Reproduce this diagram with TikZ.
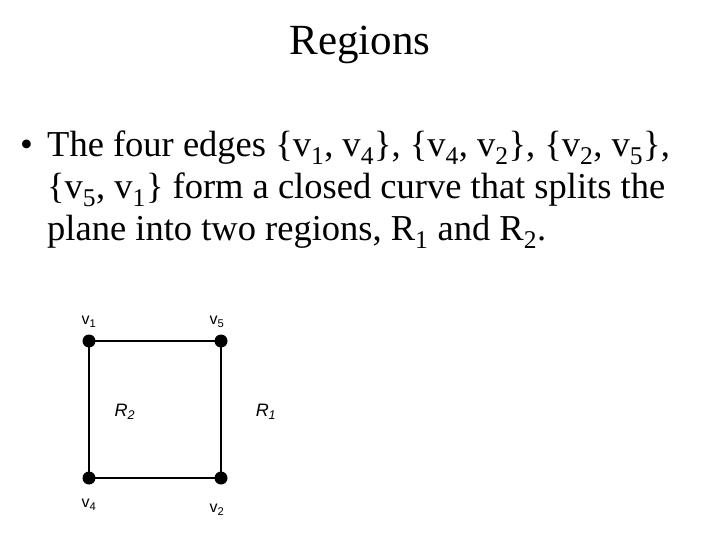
\documentclass[tikz,border=0pt]{standalone}
\usepackage{fontspec}
\setmainfont{Liberation Serif}
\newfontfamily\lsans{Liberation Sans}
\newcommand{\sbx}[1]{\textsubscript{#1}}
\begin{document}
\begin{tikzpicture}[x=1pt,y=-1pt,
  dot/.style={circle,fill=black,inner sep=0pt,minimum size=13pt},
  lbl/.style={font=\lsans\fontsize{16}{18}\selectfont,inner sep=0pt},
  body/.style={font=\fontsize{36.5}{42}\selectfont,inner sep=0pt,anchor=west}]
\useasboundingbox (0,0) rectangle (720,540);
\node[font=\fontsize{43}{48}\selectfont,inner sep=0pt] (title) at (360,45) {Regions};
\node[body] (b) at (20,148) {\textbullet};
\node[body] (l1) at (47,148) {The four edges \{v\sbx{1}, v\sbx{4}\}, \{v\sbx{4}, v\sbx{2}\}, \{v\sbx{2}, v\sbx{5}\},};
\node[body] (l2) at (47,190) {\{v\sbx{5}, v\sbx{1}\} form a closed curve that splits the};
\node[body] (l3) at (47,232) {plane into two regions, R\sbx{1} and R\sbx{2}.};
\node[dot] (v1) at (89,341) {};
\node[dot] (v5) at (221,341) {};
\node[dot] (v4) at (89,478) {};
\node[dot] (v2) at (221,478) {};
\draw[line width=1.5pt] (v1.center) -- (v5.center) -- (v2.center) -- (v4.center) -- cycle;
\node[lbl] (t1) at (89,322) {v\sbx{1}};
\node[lbl] (t5) at (217,322) {v\sbx{5}};
\node[lbl] (t4) at (89,505) {v\sbx{4}};
\node[lbl] (t2) at (217,510) {v\sbx{2}};
\node[lbl,font=\lsans\itshape\fontsize{18}{20}\selectfont] (r2) at (125,412) {R\sbx{2}};
\node[lbl,font=\lsans\itshape\fontsize{18}{20}\selectfont] (r1) at (266,412) {R\sbx{1}};
\end{tikzpicture}
\end{document}
